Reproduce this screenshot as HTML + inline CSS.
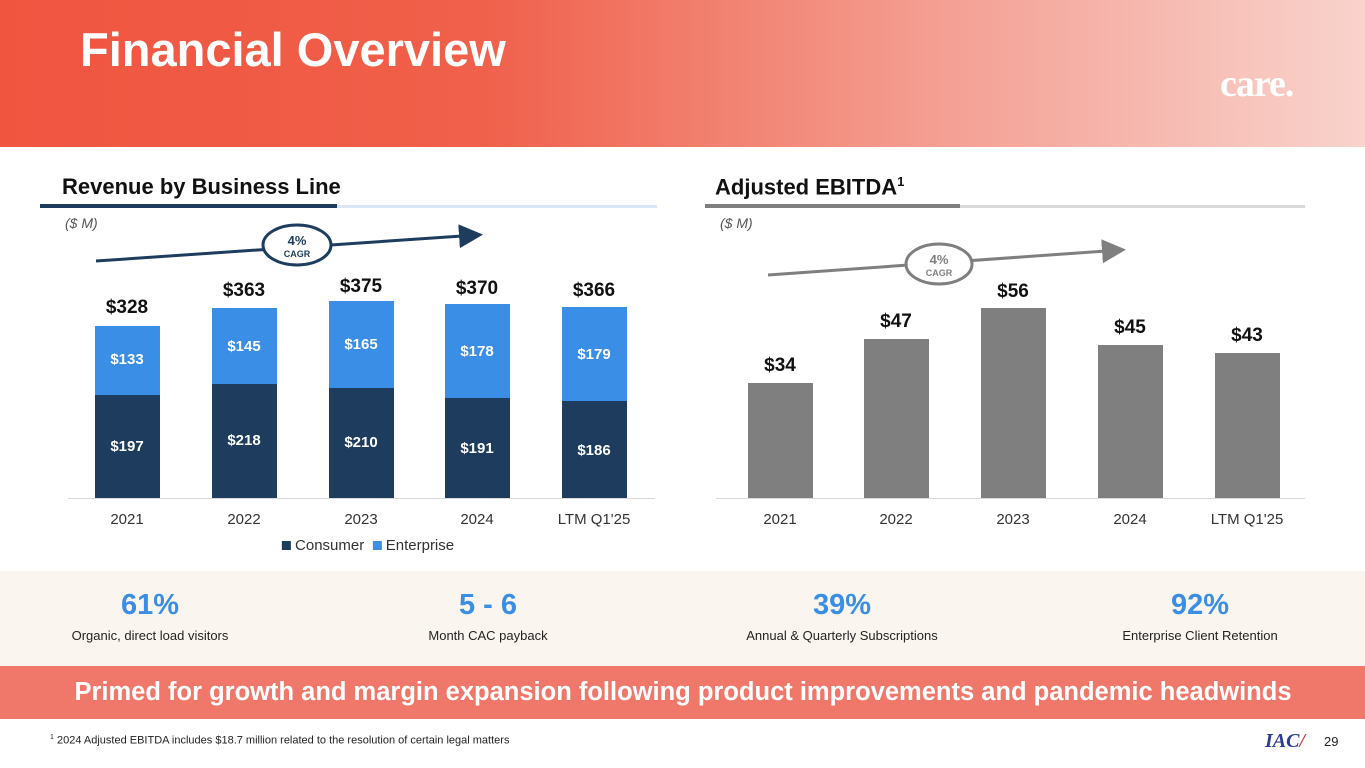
<!DOCTYPE html><html><head><style>
*{margin:0;padding:0;box-sizing:border-box}
body{width:1365px;height:768px;position:relative;overflow:hidden;background:#fff;font-family:"Liberation Sans",Arial,sans-serif}
.a{position:absolute}
.c{position:absolute;transform:translateX(-50%);white-space:nowrap;text-align:center}
.bar{position:absolute;width:65px}
.dl{color:#fff;font-weight:bold;font-size:15px}
.tl{font-weight:bold;font-size:19px;color:#111}
.xl{font-size:15px;color:#333}
</style></head><body>
<div class="a" style="left:0;top:0;width:1365px;height:147px;background:linear-gradient(90deg,#f05540 0%,#f0604a 35%,#f4a195 70%,#f9d3cc 100%)"></div>
<div class="a" style="left:80px;top:22px;color:#fff;font-weight:bold;font-size:47px">Financial Overview</div>
<div class="a" style="left:1220px;top:62px;color:#fff;font-weight:bold;font-size:38px;font-family:'Liberation Serif',serif;letter-spacing:-1px">care.</div>

<div class="a" style="left:62px;top:174px;font-weight:bold;font-size:22px;color:#111">Revenue by Business Line</div>
<div class="a" style="left:40px;top:204px;width:297px;height:4px;background:#1e3d5e"></div>
<div class="a" style="left:337px;top:205px;width:320px;height:3px;background:#dbe7f7"></div>
<div class="a" style="left:65px;top:215px;font-style:italic;font-size:14px;color:#555">($ M)</div>

<div class="a" style="left:715px;top:174px;font-weight:bold;font-size:22px;color:#111">Adjusted EBITDA<sup style="font-size:13px">1</sup></div>
<div class="a" style="left:705px;top:204px;width:255px;height:4px;background:#7f7f7f"></div>
<div class="a" style="left:960px;top:205px;width:345px;height:3px;background:#d9d9d9"></div>
<div class="a" style="left:720px;top:215px;font-style:italic;font-size:14px;color:#555">($ M)</div>

<svg class="a" style="left:0;top:0" width="1365" height="768">
<defs><marker id="m" markerWidth="8" markerHeight="8" refX="6" refY="4" orient="auto"><path d="M0,0 L8,4 L0,8z" fill="#1e3d5e"/></marker>
<marker id="g" markerWidth="8" markerHeight="8" refX="6" refY="4" orient="auto"><path d="M0,0 L8,4 L0,8z" fill="#7f7f7f"/></marker></defs>
<line x1="96" y1="261" x2="477" y2="235" stroke="#1e3d5e" stroke-width="3" marker-end="url(#m)"/>
<ellipse cx="297" cy="245" rx="34" ry="20" fill="#fff" stroke="#1e3d5e" stroke-width="3"/>
<text x="297" y="245" font-size="13" font-weight="bold" fill="#1e3d5e" text-anchor="middle" font-family="Liberation Sans">4%</text>
<text x="297" y="257" font-size="9" font-weight="bold" fill="#1e3d5e" text-anchor="middle" font-family="Liberation Sans">CAGR</text>
<line x1="768" y1="275" x2="1120" y2="250" stroke="#7f7f7f" stroke-width="3" marker-end="url(#g)"/>
<ellipse cx="939" cy="264" rx="33" ry="20" fill="#fff" stroke="#7f7f7f" stroke-width="3"/>
<text x="939" y="264" font-size="13" font-weight="bold" fill="#7f7f7f" text-anchor="middle" font-family="Liberation Sans">4%</text>
<text x="939" y="276" font-size="9" font-weight="bold" fill="#7f7f7f" text-anchor="middle" font-family="Liberation Sans">CAGR</text>
<line x1="68" y1="498.5" x2="655" y2="498.5" stroke="#d9d9d9"/>
<line x1="716" y1="498.5" x2="1305" y2="498.5" stroke="#d9d9d9"/>
</svg>

<div class="bar" style="left:95px;top:326px;height:69px;background:#3a8ee6"></div><div class="bar" style="left:95px;top:395px;height:103px;background:#1e3d5e"></div>
<div class="bar" style="left:212px;top:308px;height:76px;background:#3a8ee6"></div><div class="bar" style="left:212px;top:384px;height:114px;background:#1e3d5e"></div>
<div class="bar" style="left:329px;top:301px;height:87px;background:#3a8ee6"></div><div class="bar" style="left:329px;top:388px;height:110px;background:#1e3d5e"></div>
<div class="bar" style="left:445px;top:304px;height:94px;background:#3a8ee6"></div><div class="bar" style="left:445px;top:398px;height:100px;background:#1e3d5e"></div>
<div class="bar" style="left:562px;top:307px;height:94px;background:#3a8ee6"></div><div class="bar" style="left:562px;top:401px;height:97px;background:#1e3d5e"></div>
<div class="c dl" style="left:127px;top:351px">$133</div><div class="c dl" style="left:127px;top:438px">$197</div>
<div class="c dl" style="left:244px;top:338px">$145</div><div class="c dl" style="left:244px;top:432px">$218</div>
<div class="c dl" style="left:361px;top:336px">$165</div><div class="c dl" style="left:361px;top:434px">$210</div>
<div class="c dl" style="left:477px;top:343px">$178</div><div class="c dl" style="left:477px;top:440px">$191</div>
<div class="c dl" style="left:594px;top:346px">$179</div><div class="c dl" style="left:594px;top:442px">$186</div>
<div class="c tl" style="left:127px;top:297px">$328</div>
<div class="c tl" style="left:244px;top:280px">$363</div>
<div class="c tl" style="left:361px;top:276px">$375</div>
<div class="c tl" style="left:477px;top:278px">$370</div>
<div class="c tl" style="left:594px;top:280px">$366</div>
<div class="c xl" style="left:127px;top:511px">2021</div><div class="c xl" style="left:244px;top:511px">2022</div><div class="c xl" style="left:361px;top:511px">2023</div><div class="c xl" style="left:477px;top:511px">2024</div><div class="c xl" style="left:594px;top:511px">LTM Q1'25</div>
<div class="c xl" style="left:368px;top:537px"><span style="display:inline-block;width:9px;height:9px;background:#1e3d5e"></span> Consumer &nbsp;<span style="display:inline-block;width:9px;height:9px;background:#3a8ee6"></span> Enterprise</div>

<div class="bar" style="left:748px;top:383px;height:115px;background:#7f7f7f"></div>
<div class="bar" style="left:864px;top:339px;height:159px;background:#7f7f7f"></div>
<div class="bar" style="left:981px;top:308px;height:190px;background:#7f7f7f"></div>
<div class="bar" style="left:1098px;top:345px;height:153px;background:#7f7f7f"></div>
<div class="bar" style="left:1215px;top:353px;height:145px;background:#7f7f7f"></div>
<div class="c tl" style="left:780px;top:355px">$34</div>
<div class="c tl" style="left:896px;top:311px">$47</div>
<div class="c tl" style="left:1013px;top:281px">$56</div>
<div class="c tl" style="left:1130px;top:317px">$45</div>
<div class="c tl" style="left:1247px;top:325px">$43</div>
<div class="c xl" style="left:780px;top:511px">2021</div><div class="c xl" style="left:896px;top:511px">2022</div><div class="c xl" style="left:1013px;top:511px">2023</div><div class="c xl" style="left:1130px;top:511px">2024</div><div class="c xl" style="left:1247px;top:511px">LTM Q1'25</div>

<div class="a" style="left:0;top:571px;width:1365px;height:95px;background:#faf6ef"></div>
<div class="c" style="left:150px;top:589px;color:#3a8ee6;font-weight:bold;font-size:29px">61%</div>
<div class="c" style="left:488px;top:589px;color:#3a8ee6;font-weight:bold;font-size:29px">5 - 6</div>
<div class="c" style="left:842px;top:589px;color:#3a8ee6;font-weight:bold;font-size:29px">39%</div>
<div class="c" style="left:1200px;top:589px;color:#3a8ee6;font-weight:bold;font-size:29px">92%</div>
<div class="c" style="left:150px;top:628px;font-size:13px;color:#222">Organic, direct load visitors</div>
<div class="c" style="left:488px;top:628px;font-size:13px;color:#222">Month CAC payback</div>
<div class="c" style="left:842px;top:628px;font-size:13px;color:#222">Annual &amp; Quarterly Subscriptions</div>
<div class="c" style="left:1200px;top:628px;font-size:13px;color:#222">Enterprise Client Retention</div>

<div class="a" style="left:0;top:666px;width:1365px;height:53px;background:#f0786a"></div>
<div class="c" style="left:683px;top:678px;color:#fff;font-weight:bold;font-size:25.5px">Primed for growth and margin expansion following product improvements and pandemic headwinds</div>

<div class="a" style="left:50px;top:734px;font-size:11px;color:#222"><sup style="font-size:7px">1</sup> 2024 Adjusted EBITDA includes $18.7 million related to the resolution of certain legal matters</div>
<div class="a" style="left:1265px;top:730px;font-family:'Liberation Serif',serif;font-style:italic;font-weight:bold;font-size:20px;color:#2a3f8f">IAC<span style="color:#d04040">/</span></div>
<div class="a" style="left:1324px;top:734px;font-size:13px;color:#222">29</div>
</body></html>
